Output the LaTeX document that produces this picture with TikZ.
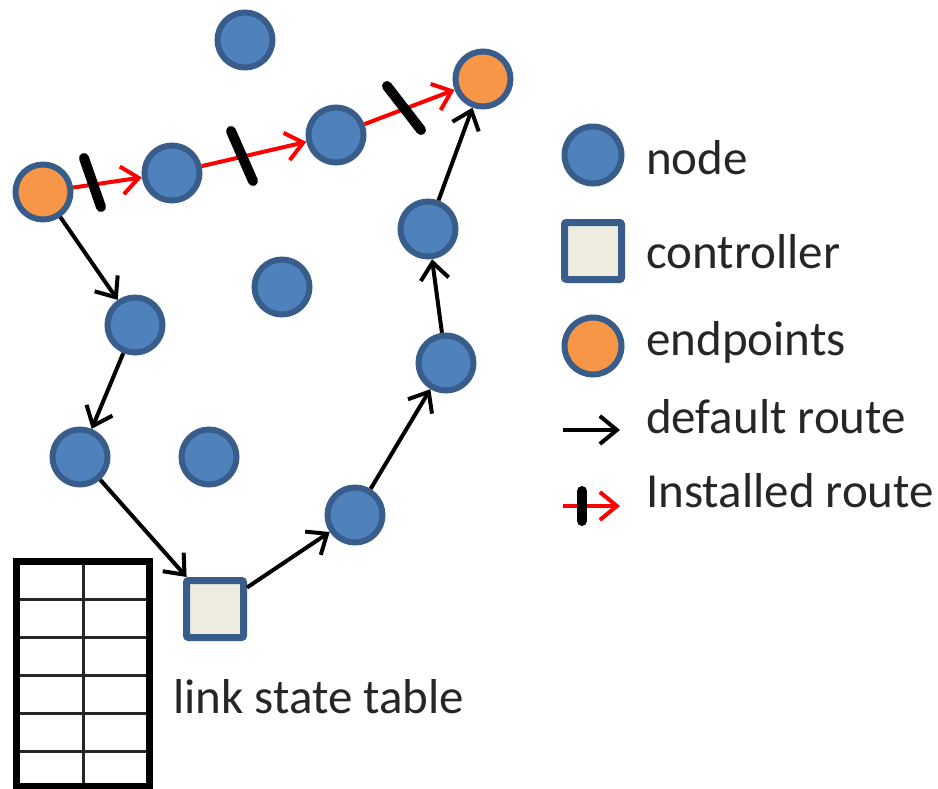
\documentclass[tikz,border=0pt]{standalone}
\usepackage{fontspec}
\setmainfont{Carlito}
\usetikzlibrary{arrows.meta}
\definecolor{nodefill}{HTML}{4F81BD}
\definecolor{nodeline}{HTML}{385D8A}
\definecolor{endfill}{HTML}{F79646}
\definecolor{ctrlfill}{HTML}{EEECE1}
\definecolor{txt}{HTML}{262626}
\begin{document}
\begin{tikzpicture}[x=1pt,y=-1pt,
  netnode/.style={circle, draw=nodeline, fill=nodefill, line width=6pt, minimum size=55pt, inner sep=0pt},
  endnode/.style={netnode, fill=endfill},
  ctrlnode/.style={rectangle, draw=nodeline, fill=ctrlfill, line width=7pt, minimum size=57pt, rounded corners=2pt, inner sep=0pt},
  defroute/.style={-{Straight Barb[length=17pt,width=28pt]}, line width=4pt, draw=black},
  instroute/.style={defroute, draw=red},
  cutbar/.style={line width=10pt, line cap=round, draw=black},
  lbl/.style={font=\fontsize{49}{58}\selectfont, text=txt, anchor=base west, inner sep=0pt},
  tblouter/.style={line width=7pt, draw=black},
  tblinner/.style={line width=3pt, draw=black!85}
]
\useasboundingbox (0,0) rectangle (938,788);

% network nodes
\node[netnode] (t0) at (245,40) {};
\node[endnode] (A) at (43,192) {};
\node[netnode] (n1) at (172,173) {};
\node[netnode] (n2) at (336,135) {};
\node[endnode] (B) at (483,79) {};
\node[netnode] (n3) at (428,229) {};
\node[netnode] (m0) at (282,287) {};
\node[netnode] (n4) at (135,325) {};
\node[netnode] (n5) at (446,363) {};
\node[netnode] (n6) at (80,457) {};
\node[netnode] (m1) at (209,457) {};
\node[netnode] (n7) at (355,515) {};
\node[ctrlnode] (ctrl) at (215,609) {};

% installed route
\draw[instroute] (A) -- (n1);
\draw[instroute] (n1) -- (n2);
\draw[instroute] (n2) -- (B);
\draw[cutbar] (84,158) -- (101,207);
\draw[cutbar] (231,131) -- (253,181);
\draw[cutbar] (387,86) -- (421,130);

% default route
\draw[defroute] (A) -- (n4);
\draw[defroute] (n4) -- (n6);
\draw[defroute] (n6) -- (ctrl);
\draw[defroute] (ctrl) -- (n7);
\draw[defroute] (n7) -- (n5);
\draw[defroute] (n5) -- (n3);
\draw[defroute] (n3) -- (B);

% link state table
\foreach \yy in {599,637,675,713,751} \draw[tblinner] (16,\yy) -- (149,\yy);
\draw[tblinner] (83,561) -- (83,786);
\draw[tblouter] (16,561) rectangle (149,786);
\node[lbl] (lst) at (173,713) {link state table};

% legend
\node[netnode, minimum size=57pt] (lgnode) at (593,155) {};
\node[lbl] (lgnodet) at (646,174) {node};
\node[ctrlnode, minimum size=57pt] (lgctrl) at (593,251) {};
\node[lbl] (lgctrlt) at (646,268) {controller};
\node[endnode, minimum size=57pt] (lgend) at (593,346) {};
\node[lbl] (lgendt) at (646,355) {endpoints};
\coordinate (lda) at (563,430);
\coordinate (ldb) at (620,430);
\draw[defroute] (lda) -- (ldb);
\node[lbl] (lgdeft) at (646,433) {default route};
\coordinate (lia) at (563,506);
\coordinate (lib) at (620,506);
\draw[instroute] (lia) -- (lib);
\draw[cutbar] (582,491) -- (582,521);
\node[lbl] (lginst) at (646,507) {Installed route};
\end{tikzpicture}
\end{document}
